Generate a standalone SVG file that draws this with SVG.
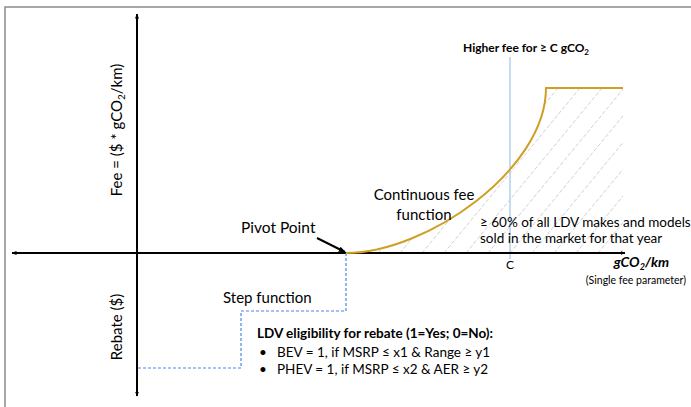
<svg xmlns="http://www.w3.org/2000/svg" width="691" height="407" viewBox="0 0 691 407">
  <defs>
    <marker id="ah" viewBox="0 0 10 10" refX="9" refY="5" markerWidth="5" markerHeight="5" orient="auto-start-reverse" markerUnits="userSpaceOnUse">
      <path d="M0,1 L10,5 L0,9 Z" fill="#000"/>
    </marker>
    <marker id="ahs" viewBox="0 0 10 10" refX="9" refY="5" markerWidth="7" markerHeight="7" orient="auto" markerUnits="userSpaceOnUse">
      <path d="M0,1 L10,5 L0,9 Z" fill="#000"/>
    </marker>
    <clipPath id="hc">
      <path d="M346,253 C426,253 546,170 546,88 L623,88 L623,253 Z"/>
    </clipPath>
  </defs>
  <style>
    text { font-family: Lato, "Liberation Sans", sans-serif; fill: #000; }
    .axis { stroke: #000; stroke-width: 2; fill: none; }
    .hatch { stroke: #c4c4c4; stroke-width: 0.8; stroke-dasharray: 4 2; }
    .step { stroke: #4a86e8; stroke-width: 1.2; stroke-dasharray: 3 2; fill: none; }
    .fee { stroke: #cf9f24; stroke-width: 2; fill: none; }
    .cline { stroke: #9dc3e6; stroke-width: 1.2; }
    .lbl { font-size: 15px; }
    .sm { font-size: 13.5px; }
  </style>

  <!-- frame -->
  <path d="M5,407 L5,7 L691,7" fill="none" stroke="#8a8a8a" stroke-width="1.5"/>

  <g id="hatching" clip-path="url(#hc)">
    <path class="hatch" d="M290,253 l136,-165 M312,253 l136,-165 M334,253 l136,-165 M356,253 l136,-165 M378,253 l136,-165 M400,253 l136,-165 M422,253 l136,-165 M444,253 l136,-165 M466,253 l136,-165 M488,253 l136,-165 M510,253 l136,-165 M532,253 l136,-165 M554,253 l136,-165 M576,253 l136,-165 M598,253 l136,-165 M620,253 l136,-165 M642,253 l136,-165 M664,253 l136,-165 M686,253 l136,-165 M708,253 l136,-165 M730,253 l136,-165 M752,253 l136,-165"/>
  </g>

  <g id="c-line">
    <line class="cline" x1="510" y1="57" x2="510" y2="259"/>
  </g>

  <g id="connectors">
    <line id="x-axis-l" class="axis" x1="137" y1="253" x2="12" y2="253" marker-end="url(#ah)"/>
    <line id="x-axis-r" class="axis" x1="137" y1="253" x2="625" y2="253" marker-end="url(#ah)"/>
    <line id="y-axis-up" class="axis" x1="137" y1="253" x2="137" y2="14" marker-end="url(#ah)"/>
    <line id="y-axis-down" class="axis" x1="137" y1="253" x2="137" y2="396" marker-end="url(#ah)"/>
    <path id="step-fn" class="step" d="M346,253 L346,311 L241,311 L241,368 L137,368"/>
    <path id="fee-fn" class="fee" d="M346,253 C426,253 546,170 546,88 L623,88"/>
    <line id="pivot-arrow" x1="317" y1="238" x2="345" y2="252" stroke="#000" stroke-width="2" marker-end="url(#ahs)"/>
  </g>

  <g id="y-labels">
    <text transform="translate(122,130) rotate(-90)" text-anchor="middle" style="font-size:15px">Fee = ($ * gCO<tspan font-size="10" dy="3">2</tspan><tspan dy="-3">/km)</tspan></text>
    <text transform="translate(122,327) rotate(-90)" text-anchor="middle" style="font-size:15px">Rebate ($)</text>
  </g>

  <g id="higher-fee">
    <text x="463" y="52" style="font-size:12px;font-weight:bold">Higher fee for ≥ C gCO<tspan font-size="8" dy="3">2</tspan></text>
  </g>

  <g id="pivot">
    <text class="lbl" x="241" y="233" style="font-size:15.5px">Pivot Point</text>
  </g>

  <g id="continuous">
    <text class="lbl" x="424" y="200" text-anchor="middle">Continuous fee</text>
    <text class="lbl" x="424" y="220" text-anchor="middle">function</text>
  </g>

  <g id="share">
    <text class="sm" x="480" y="227">≥ 60% of all LDV makes and models</text>
    <text class="sm" x="480" y="243">sold in the market for that year</text>
  </g>

  <g id="c-label">
    <text x="510" y="269" text-anchor="middle" style="font-size:12px">C</text>
  </g>

  <g id="x-label">
    <text x="669" y="267" text-anchor="end" style="font-size:14px;font-weight:bold;font-style:italic">gCO<tspan font-size="9" dy="3">2</tspan><tspan dy="-3">/km</tspan></text>
    <text x="686" y="284" text-anchor="end" style="font-size:10.5px">(Single fee parameter)</text>
  </g>

  <g id="step">
    <text class="lbl" x="223" y="303">Step function</text>
  </g>

  <g id="eligibility">
    <text x="257" y="338" style="font-size:13.5px;font-weight:bold">LDV eligibility for rebate (1=Yes; 0=No):</text>
    <text x="259" y="357" style="font-size:13.5px">•</text>
    <text x="277" y="357" style="font-size:13.5px">BEV = 1, if MSRP ≤ x1 &amp; Range ≥ y1</text>
    <text x="259" y="374" style="font-size:13.5px">•</text>
    <text x="277" y="374" style="font-size:13.5px">PHEV = 1, if MSRP ≤ x2 &amp; AER ≥ y2</text>
  </g>
</svg>
